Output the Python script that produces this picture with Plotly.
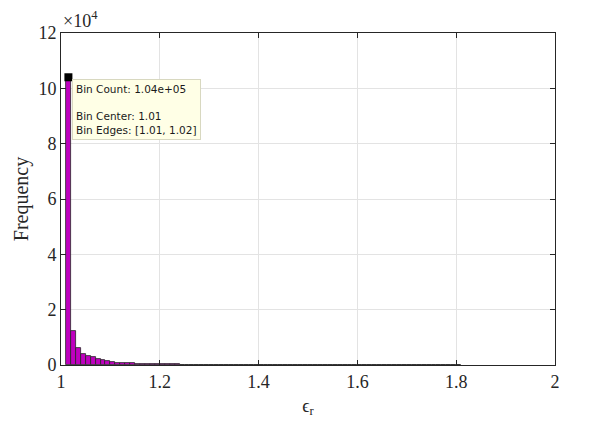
import plotly.graph_objects as go

# ---- data ----
bin_start = 1.01
bin_width = 0.01
counts = [104000, 12400, 6200, 4000, 3250, 2750, 2100, 1700, 1350, 1100,
          900, 760, 650, 560, 480, 420, 370, 330, 290, 260,
          230, 205, 185, 165, 150, 135, 122, 110, 100, 92,
          84, 77, 70, 64, 58, 53, 48, 44, 40, 36,
          33, 30, 27, 25, 23, 21, 19, 17, 15, 14,
          13, 12, 11, 10, 9, 8, 7, 6, 6, 5,
          5, 4, 4, 3, 3, 3, 2, 2, 2, 2,
          1, 1, 1, 1, 1, 1, 1, 1, 0, 0]
y_ticks = [0, 20000, 40000, 60000, 80000, 100000, 120000]
y_tick_labels = ["0", "2", "4", "6", "8", "10", "12"]
x_ticks = [1, 1.2, 1.4, 1.6, 1.8, 2]
x_tick_labels = ["1", "1.2", "1.4", "1.6", "1.8", "2"]
tip_index = 0

centers = [bin_start + bin_width * (i + 0.5) for i in range(len(counts))]
lo = bin_start + bin_width * tip_index
tip_text = (f"Bin Count: {counts[tip_index]:.2e}"
            + "<br> <br>"
            + f"Bin Center: {lo:.2f}<br>"
            + f"Bin Edges: [{lo:.2f}, {lo + bin_width:.2f}]")

fig = go.Figure()
fig.add_trace(go.Bar(
    x=centers, y=counts, width=bin_width,
    marker=dict(color="#bf00bf", line=dict(color="#262626", width=0.8)),
    hoverinfo="skip",
))
fig.add_trace(go.Scatter(
    x=[centers[tip_index]], y=[counts[tip_index]],
    mode="markers",
    marker=dict(symbol="square", size=8, color="black"),
    hoverinfo="skip",
))

serif = "Liberation Serif, Times New Roman, serif"
axis_common = dict(
    showline=True, linecolor="#262626", linewidth=1, mirror="allticks",
    ticks="inside", ticklen=5, tickcolor="#262626",
    showgrid=True, gridcolor="#e3e3e3", gridwidth=1,
    zeroline=False,
    tickfont=dict(family=serif, size=18, color="#262626"),
)

fig.update_layout(
    width=590, height=424,
    margin=dict(l=61, r=35, t=33, b=56),
    plot_bgcolor="white", paper_bgcolor="white",
    showlegend=False, bargap=0,
    xaxis=dict(range=[1, 2], tickvals=x_ticks, ticktext=x_tick_labels,
               title=dict(text="ϵ<sub>r</sub>", font=dict(family=serif, size=18, color="#262626"),
                          standoff=8),
               **axis_common),
    yaxis=dict(range=[0, 120000], tickvals=y_ticks, ticktext=y_tick_labels,
               title=dict(text="Frequency", font=dict(family=serif, size=20, color="#262626"),
                          standoff=4),
               **axis_common),
    annotations=[
        dict(xref="paper", yref="paper", x=0.0, y=1.0, xanchor="left", yanchor="bottom",
             text="×10<sup>4</sup>", showarrow=False,
             font=dict(family=serif, size=18, color="#262626")),
        dict(xref="x", yref="y", x=1.022, y=103500, xanchor="left", yanchor="top",
             text=tip_text, showarrow=False, align="left",
             bgcolor="#ffffe6", bordercolor="#d8d8c0", borderwidth=1, borderpad=3,
             font=dict(family="DejaVu Sans, sans-serif", size=10.5, color="#1a1a1a")),
    ],
)

fig.write_html("out.html")
